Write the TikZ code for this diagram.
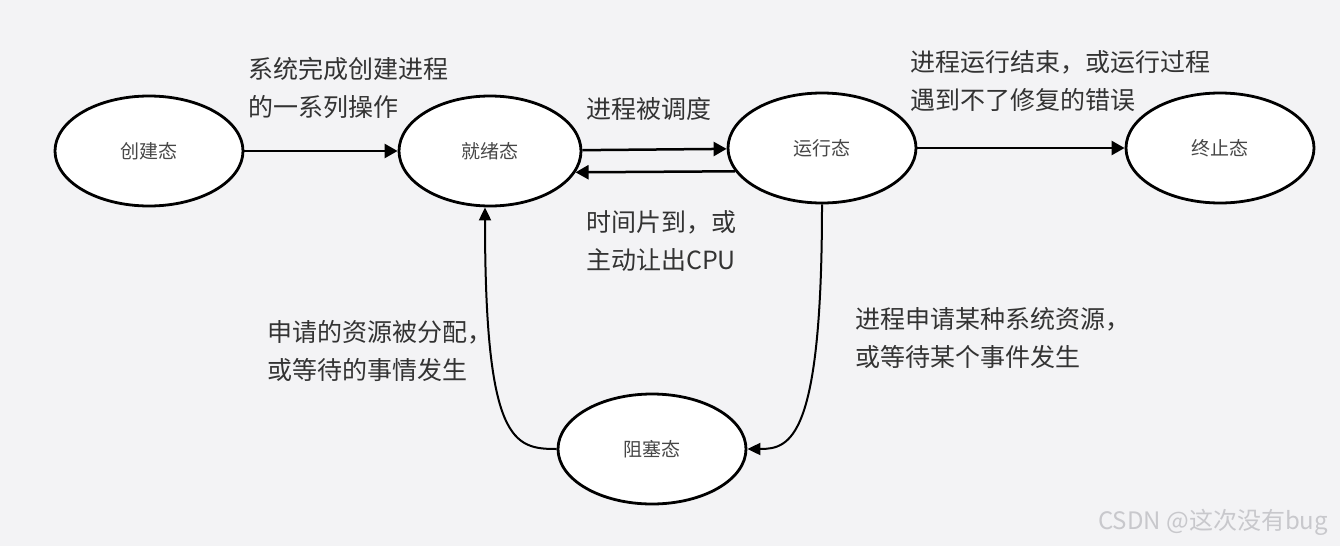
\documentclass[tikz,border=0pt]{standalone}
\usepackage{fontspec}
\setmainfont{Noto Sans CJK SC}
\usepackage{tikz}
\usetikzlibrary{arrows.meta,positioning,shapes.geometric}

\definecolor{bgcol}{RGB}{243,243,245}
\definecolor{txtcol}{RGB}{51,51,51}
\definecolor{wmcol}{RGB}{200,200,204}

\begin{document}
\begin{tikzpicture}[x=1pt,y=1pt,on grid,
    proc/.style={ellipse, draw, line width=2.8pt, fill=white, inner sep=0pt,
                 minimum width=188pt, minimum height=110pt,
                 text=txtcol!90, font=\fontsize{19pt}{22pt}\selectfont},
    lbl/.style={anchor=west, align=left, inner sep=0pt, text=txtcol,
                font=\fontsize{25pt}{38pt}\selectfont},
    flow/.style={-{Triangle[length=13pt,width=14pt]}, line width=2.5pt},
    curveflow/.style={-{Triangle[length=13pt,width=12pt]}, line width=2pt}]
   \fill[bgcol] (0,0) rectangle (1340,-546);
   \useasboundingbox (0,0) rectangle (1340,-546);

   \node[proc] (new) at (149,-151)              {创建态};
   \node[proc, minimum width=182pt] (ready) [right=341pt of new] {就绪态};
   \node[proc] (run)   [above right=3pt and 332pt of ready]  {运行态};
   \node[proc] (exit)  [right=398pt of run]                   {终止态};
   \node[proc] (block) [below left=301pt and 170pt of run]    {阻塞态};

   \path[flow]
    (new)     edge (ready)
    (ready)   edge (run)
    (run.195) edge (ready.-14)
    (run)     edge (exit);

   \draw[curveflow] (run.south) .. controls +(0,-235) and +(43,0) .. (block.east);
   \draw[curveflow] (block.west) .. controls +(-43,0) and +(0,-235) .. ([xshift=-5pt]ready.south);

   \node[lbl] (lcreate)  at (248,-88)   {系统完成创建进程\\的一系列操作};
   \node[lbl] (lsched)   at (586,-109)  {进程被调度};
   \node[lbl] (ltimeout) at (586,-241)  {时间片到，或\\主动让出CPU};
   \node[lbl] (lexit)    at (910,-81.5) {进程运行结束，或运行过程\\遇到不了修复的错误};
   \node[lbl] (lwake)    at (267,-351)  {申请的资源被分配，\\或等待的事情发生};
   \node[lbl] (lwait)    at (855,-337.5) {进程申请某种系统资源，\\或等待某个事件发生};

   \node[anchor=west, inner sep=0pt, text=wmcol,
         font=\fontsize{24pt}{26pt}\selectfont] (wmark) at (1098,-522) {CSDN @这次没有bug};
\end{tikzpicture}
\end{document}
